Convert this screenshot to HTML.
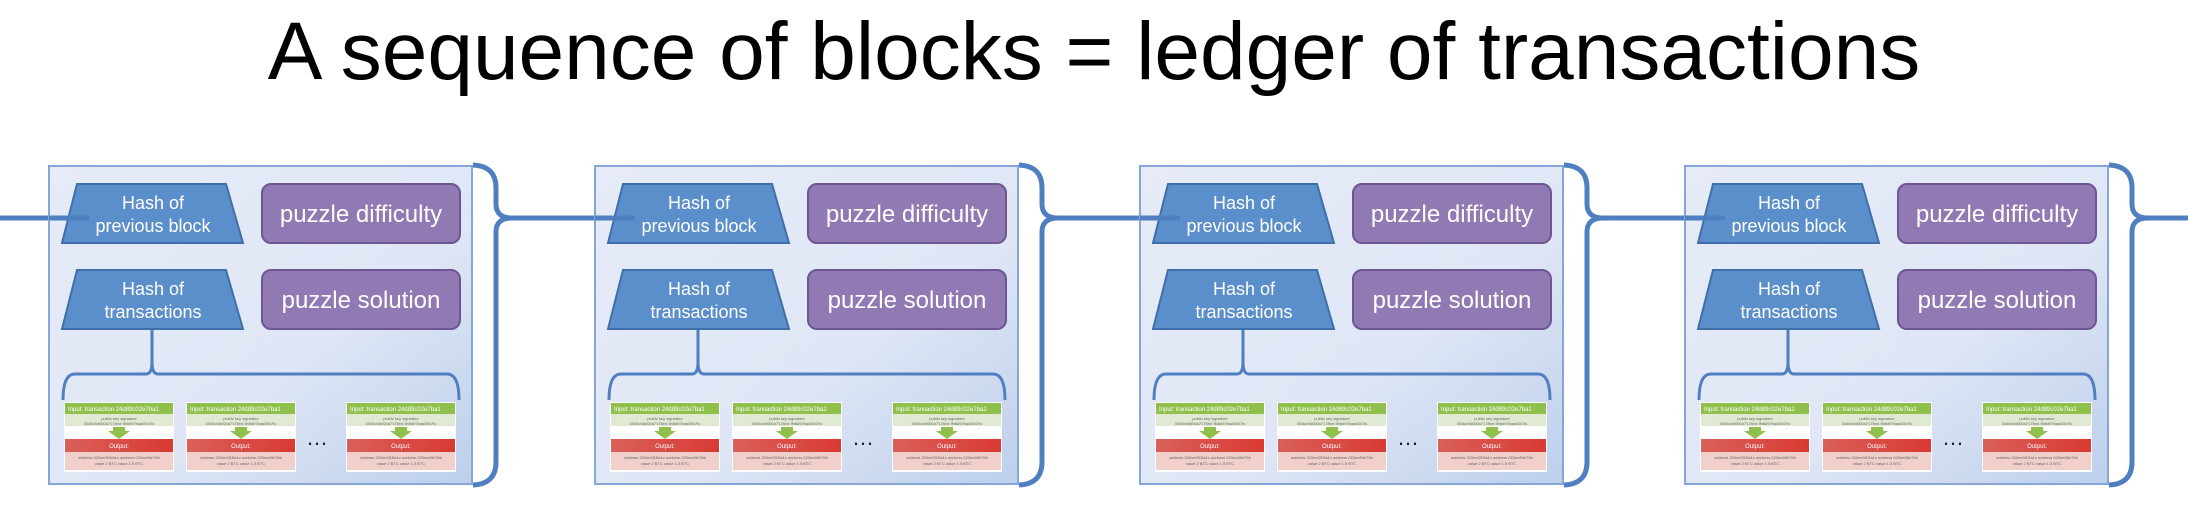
<!DOCTYPE html>
<html><head><meta charset="utf-8"><style>
html,body{margin:0;padding:0;background:#fff;}
body{width:2188px;height:516px;overflow:hidden;position:relative;}
.t{position:absolute;left:0;width:2188px;text-align:center;font-family:"Liberation Sans",sans-serif;font-size:82px;line-height:1;top:11px;color:#000;}
svg{position:absolute;left:0;top:0;}
</style></head><body>
<div class="t">A sequence of blocks = ledger of transactions</div>
<svg width="2188" height="516" viewBox="0 0 2188 516" font-family="Liberation Sans, sans-serif">
<defs>
<linearGradient id="bg" x1="0" y1="0" x2="1" y2="1">
<stop offset="0" stop-color="#e6ebf7"/><stop offset="0.6" stop-color="#dfe6f5"/><stop offset="1" stop-color="#bccfec"/>
</linearGradient>
<linearGradient id="red" x1="0" y1="0" x2="1" y2="0"><stop offset="0" stop-color="#d9605a"/><stop offset="1" stop-color="#d93a32"/></linearGradient>
</defs>
<g stroke="#4f7fc0" stroke-width="5" fill="none">
<line x1="0" y1="218" x2="78" y2="218"/>
<line x1="512" y1="218" x2="624" y2="218"/>
<line x1="1057" y1="218" x2="1169" y2="218"/>
<line x1="1602" y1="218" x2="1714" y2="218"/>
<line x1="2148" y1="218" x2="2188" y2="218"/>
</g>

<g id="b1" transform="translate(49,166)">
<rect x="0" y="0" width="423" height="318" fill="url(#bg)" stroke="#86a6d8" stroke-width="2"/>
<path d="M424,-1 Q447,0 447,22 L447,38 Q447,52 463,52 Q447,52 447,66 L447,296 Q447,318 424,319" fill="none" stroke="#4f7fc0" stroke-width="5"/>
<polygon points="28,18 177,18 194,77 13,77" fill="#5b8fcb" stroke="#3f6fa8" stroke-width="2"/>
<line x1="0" y1="52" x2="40" y2="52" stroke="#4f7fc0" stroke-width="5"/>
<text x="104" y="43" fill="#fff" font-size="18" text-anchor="middle">Hash of</text>
<text x="104" y="66" fill="#fff" font-size="18" text-anchor="middle">previous  block</text>
<rect x="213" y="18" width="198" height="59" rx="9" fill="#9179b3" stroke="#6c5693" stroke-width="2"/>
<text x="312" y="56" fill="#fff" font-size="24" text-anchor="middle">puzzle difficulty</text>
<polygon points="28,104 177,104 194,163 13,163" fill="#5b8fcb" stroke="#3f6fa8" stroke-width="2"/>
<text x="104" y="129" fill="#fff" font-size="18" text-anchor="middle">Hash of</text>
<text x="104" y="152" fill="#fff" font-size="18" text-anchor="middle">transactions</text>
<rect x="213" y="104" width="198" height="59" rx="9" fill="#9179b3" stroke="#6c5693" stroke-width="2"/>
<text x="312" y="142" fill="#fff" font-size="24" text-anchor="middle">puzzle solution</text>
<path d="M103,164 L103,196 Q103,208 97,208 L26,208 Q14,208 14,234 M103,196 Q103,208 109,208 L398,208 Q410,208 410,234" fill="none" stroke="#4f7fc0" stroke-width="3"/>
<g id="c1" transform="translate(15,236)">
<rect x="0" y="0" width="110" height="70" fill="#fff"/>
<rect x="1" y="1" width="108" height="11" fill="#8fc04c"/>
<text x="4" y="9" fill="#fff" font-size="6">Input: transaction 24d89c02e7ba1</text>
<rect x="1" y="12" width="108" height="12" fill="#e0e9d2"/>
<text x="55" y="18" fill="#666" font-size="4" text-anchor="middle">public key     signature</text>
<text x="55" y="23" fill="#666" font-size="4" text-anchor="middle">3046c9d000a7178ed  9b8d97baa5047fc</text>
<polygon points="49,25 61,25 61,29 66,29 55,37 44,29 49,29" fill="#8fc04c"/>
<rect x="1" y="37" width="108" height="13" fill="url(#red)"/>
<text x="55" y="46" fill="#fff" font-size="6" text-anchor="middle">Output:</text>
<rect x="1" y="50" width="108" height="18" fill="#f1cfcb"/>
<text x="55" y="57" fill="#666" font-size="4" text-anchor="middle">address 320ee053fa1c  address 023ee89e76b</text>
<text x="55" y="63" fill="#666" font-size="4" text-anchor="middle">value 2 BTC        value 1.5 BTC</text>
</g>
<use href="#c1" x="122" y="0"/>
<use href="#c1" x="282" y="0"/>
<text x="268" y="279" fill="#222" font-size="22" text-anchor="middle">…</text>
</g>
<use href="#b1" x="546" y="0"/>
<use href="#b1" x="1091" y="0"/>
<use href="#b1" x="1636" y="0"/>
</svg>
</body></html>
